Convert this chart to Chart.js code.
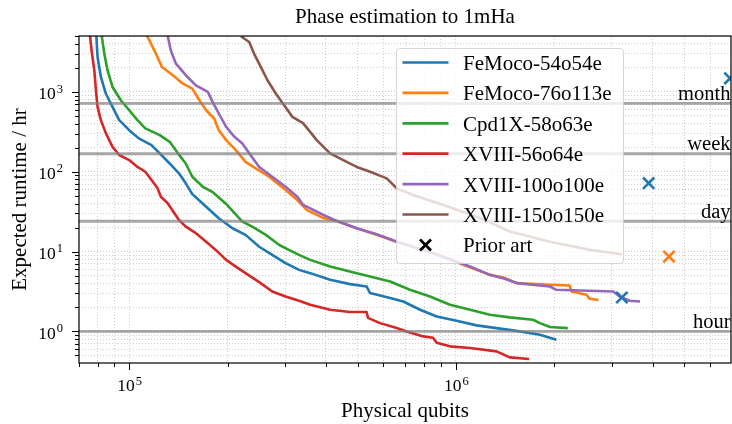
<!DOCTYPE html>
<html>
<head>
<meta charset="utf-8">
<script src="https://cdn.jsdelivr.net/npm/chart.js@4.4.1/dist/chart.umd.min.js"></script>
<style>
  html, body { margin: 0; padding: 0; background: #fff; }
  #wrap { width: 732px; height: 424px; position: relative; }
</style>
</head>
<body>
<div id="wrap"><canvas id="chart"></canvas></div>
<script>
// Series names and colours (matplotlib tab10)
const seriesNames = ["FeMoco-54o54e", "FeMoco-76o113e", "Cpd1X-58o63e", "XVIII-56o64e", "XVIII-100o100e", "XVIII-150o150e"];
const seriesColors = ["#1f77b4", "#ff7f0e", "#2ca02c", "#d62728", "#9467bd", "#8c564b"];

// Physical qubits / expected runtime (hr)
const femoco54Qubits = [79.3e3, 80.0e3, 81.9e3, 84.8e3, 88.9e3, 93.2e3, 100e3, 107e3, 117e3, 124e3, 133e3, 142e3, 149e3, 156e3, 172e3, 188e3, 207e3, 227e3, 250e3, 274e3, 301e3, 331e3, 358e3, 412e3, 474e3, 533e3, 546e3, 629e3, 690e3, 777e3, 873e3, 1.005e6, 1.157e6, 1.331e6, 1.569e6, 1.807e6, 2.03e6];
const femoco54Runtime = [5200, 2740, 1540, 955, 649, 443, 332, 262, 216, 170, 127, 95.5, 71.6, 52.5, 36.5, 26.2, 19.6, 16.2, 11.5, 9.1, 7.16, 5.9, 5.37, 4.43, 3.91, 3.65, 3.02, 2.62, 2.37, 1.87, 1.54, 1.36, 1.19, 1.10, 1.0, 0.91, 0.787];

const femoco76Qubits = [113e3, 118e3, 122e3, 126e3, 136e3, 146e3, 156e3, 164e3, 172e3, 182e3, 188e3, 198e3, 212e3, 227e3, 244e3, 268e3, 301e3, 327e3, 350e3, 393e3, 432e3, 497e3, 572e3, 659e3, 795e3, 915e3, 1.053e6, 1.157e6, 1.27e6, 1.41e6, 1.535e6, 1.94e6, 2.23e6, 2.26e6, 2.51e6, 2.57e6, 2.73e6];
const femoco76Runtime = [5200, 3650, 2740, 2050, 1620, 1270, 1100, 787, 590, 465, 332, 249, 187, 133, 110, 86.6, 59, 44.3, 33, 26.3, 24.2, 19.6, 16.2, 13.3, 10.5, 8.66, 6.82, 5.9, 5.11, 4.69, 4.03, 3.84, 3.76, 3.16, 2.88, 2.56, 2.47];

const cpd1xQubits = [82.3e3, 83.9e3, 85.8e3, 88.9e3, 94.3e3, 100e3, 106e3, 112e3, 124e3, 133e3, 141e3, 149e3, 156e3, 168e3, 180e3, 198e3, 222e3, 238e3, 262e3, 288e3, 308e3, 331e3, 358e3, 412e3, 497e3, 546e3, 629e3, 723e3, 833e3, 959e3, 1.105e6, 1.27e6, 1.462e6, 1.722e6, 1.807e6, 1.94e6, 2.20e6];
const cpd1xRuntime = [5200, 3020, 1870, 1155, 787, 590, 443, 349, 288, 237, 170, 127, 86.6, 64.9, 55.7, 39.5, 23.7, 20.5, 16.2, 12.1, 10.5, 9.1, 7.87, 6.49, 5.37, 4.87, 4.22, 3.32, 2.74, 2.16, 1.87, 1.62, 1.50, 1.40, 1.27, 1.135, 1.10];

const xviii56Qubits = [75.8e3, 76.7e3, 78.2e3, 79.1e3, 80.0e3, 81.9e3, 84.8e3, 88.9e3, 93.2e3, 100e3, 106e3, 112e3, 116e3, 122e3, 125e3, 131e3, 142e3, 149e3, 160e3, 172e3, 184e3, 198e3, 212e3, 227e3, 250e3, 274e3, 301e3, 331e3, 358e3, 412e3, 474e3, 533e3, 538e3, 586e3, 659e3, 707e3, 795e3, 851e3, 873e3, 959e3, 1.105e6, 1.331e6, 1.462e6, 1.675e6];
const xviii56Runtime = [5200, 3320, 1870, 1050, 649, 443, 305, 205, 162, 140, 115, 100, 83, 62.5, 48.7, 40.6, 24.9, 20.5, 17.0, 13.3, 10.5, 7.87, 6.49, 5.37, 4.14, 3.16, 2.74, 2.42, 2.16, 1.87, 1.75, 1.75, 1.48, 1.27, 1.10, 1.0, 0.866, 0.834, 0.722, 0.65, 0.62, 0.562, 0.473, 0.452];

const xviii100Qubits = [131e3, 134e3, 139e3, 149e3, 160e3, 174e3, 180e3, 188e3, 198e3, 210e3, 222e3, 233e3, 250e3, 274e3, 301e3, 327e3, 341e3, 393e3, 432e3, 497e3, 572e3, 659e3, 795e3, 937e3, 1.105e6, 1.27e6, 1.41e6, 1.535e6, 1.94e6, 2.03e6, 3.03e6, 3.17e6, 3.40e6, 3.66e6];
const xviii100Runtime = [5200, 3320, 2260, 1620, 1210, 1000, 750, 537, 365, 274, 226, 170, 115, 86.6, 64.9, 48.7, 38.4, 28.7, 24.2, 19.6, 16.5, 13.3, 10.5, 8.27, 6.49, 5.11, 4.56, 4.03, 3.65, 3.32, 3.16, 2.74, 2.42, 2.37];

const xviii150Qubits = [220e3, 233e3, 241e3, 253e3, 265e3, 281e3, 298e3, 316e3, 341e3, 375e3, 412e3, 452e3, 497e3, 546e3, 614e3, 659e3, 740e3, 915e3, 1.184e6, 1.462e6, 1.94e6, 2.57e6, 3.22e6];
const xviii150Runtime = [4950, 4220, 3020, 2050, 1400, 955, 682, 487, 403, 249, 170, 140, 115, 100, 82.7, 62, 51.1, 38.4, 26.4, 17.8, 13.3, 10.5, 9.28];

// Prior art points
const priorBlueQubits = [3.22e6, 3.89e6, 6.9e6];
const priorBlueRuntime = [2.66, 72, 1480];
const priorOrangeQubits = [4.49e6];
const priorOrangeRuntime = [8.66];

// Reference durations in hours
const refValues = [1, 24, 168, 720];
const refLabels = ["hour", "day", "week", "month"];

// Axis ranges and ticks
const xMin = 70200, xMax = 6.95e6;
const yMin = 0.402, yMax = 5020;
const xTickValues = [7e4, 8e4, 9e4, 1e5, 2e5, 3e5, 4e5, 5e5, 6e5, 7e5, 8e5, 9e5, 1e6, 2e6, 3e6, 4e6, 5e6, 6e6];
const yTickValues = [0.5, 0.6, 0.7, 0.8, 0.9, 1, 2, 3, 4, 5, 6, 7, 8, 9, 10, 20, 30, 40, 50, 60, 70, 80, 90,
                     100, 200, 300, 400, 500, 600, 700, 800, 900, 1000, 2000, 3000, 4000, 5000];
const xMajorTicks = [1e5, 1e6];
const xMajorExp = ["5", "6"];
const yMajorTicks = [1, 10, 100, 1000];
const yMajorExp = ["0", "1", "2", "3"];

const SERIF = '"Liberation Serif", "DejaVu Serif", serif';

function toPoints(xs, ys) {
    return xs.map((x, i) => ({ x: x, y: ys[i] }));
}

const curveData = [
    toPoints(femoco54Qubits, femoco54Runtime),
    toPoints(femoco76Qubits, femoco76Runtime),
    toPoints(cpd1xQubits, cpd1xRuntime),
    toPoints(xviii56Qubits, xviii56Runtime),
    toPoints(xviii100Qubits, xviii100Runtime),
    toPoints(xviii150Qubits, xviii150Runtime)
];

const datasets = curveData.map((pts, i) => ({
    label: seriesNames[i],
    data: pts,
    borderColor: seriesColors[i],
    backgroundColor: seriesColors[i],
    borderWidth: 2.6,
    borderJoinStyle: "round",
    pointRadius: 0,
    fill: false,
    clip: 0,
    order: 20 - i   // later series on top, like matplotlib
}));

datasets.push({
    type: "scatter", label: "Prior art (FeMoco-54o54e)",
    data: toPoints(priorBlueQubits, priorBlueRuntime),
    showLine: false, pointStyle: "crossRot", pointRadius: 8,
    borderColor: seriesColors[0], pointBorderWidth: 2.6, order: 1, clip: 0
});
datasets.push({
    type: "scatter", label: "Prior art (FeMoco-76o113e)",
    data: toPoints(priorOrangeQubits, priorOrangeRuntime),
    showLine: false, pointStyle: "crossRot", pointRadius: 8,
    borderColor: seriesColors[1], pointBorderWidth: 2.6, order: 0, clip: 0
});

function drawSupLabel(ctx, base, exp, x, y, align) {
    ctx.font = "17.5px " + SERIF;
    const wb = ctx.measureText(base).width;
    ctx.font = "12.5px " + SERIF;
    const we = ctx.measureText(exp).width;
    const total = wb + 1 + we;
    let left = align === "right" ? x - total : x - total / 2;
    ctx.textAlign = "left";
    ctx.textBaseline = "alphabetic";
    ctx.font = "17.5px " + SERIF;
    ctx.fillText(base, left, y);
    ctx.font = "12.5px " + SERIF;
    ctx.fillText(exp, left + wb + 1, y - 6.5);
}

const decorPlugin = {
    id: "decor",
    afterDatasetsDraw(chart) {
        const ctx = chart.ctx, area = chart.chartArea, ys = chart.scales.y;
        ctx.save();
        // reference lines: hour / day / week / month
        ctx.strokeStyle = "rgba(128,128,128,0.7)";
        ctx.lineWidth = 2.8;
        refValues.forEach(v => {
            const py = ys.getPixelForValue(v);
            ctx.beginPath();
            ctx.moveTo(area.left, py);
            ctx.lineTo(area.right, py);
            ctx.stroke();
        });
        ctx.fillStyle = "#000";
        ctx.font = "20.5px " + SERIF;
        ctx.textAlign = "right";
        ctx.textBaseline = "alphabetic";
        refValues.forEach((v, i) => {
            ctx.fillText(refLabels[i], area.right - 0.5, ys.getPixelForValue(v) - 3.5);
        });
        ctx.restore();
    },
    afterDraw(chart) {
        const ctx = chart.ctx, area = chart.chartArea;
        const xs = chart.scales.x, ys = chart.scales.y;
        ctx.save();

        // legend
        const lx = 396, ly = 48, lw = 227, lh = 215;
        ctx.beginPath();
        ctx.roundRect(lx + 0.5, ly + 0.5, lw, lh, 3);
        ctx.fillStyle = "rgba(255,255,255,0.8)";
        ctx.fill();
        ctx.strokeStyle = "rgba(204,204,204,0.8)";
        ctx.lineWidth = 1;
        ctx.stroke();
        ctx.font = "21px " + SERIF;
        ctx.textAlign = "left";
        ctx.textBaseline = "alphabetic";
        const rowH = 30.4;
        seriesNames.forEach((name, i) => {
            const cy = 62.5 + i * rowH;
            ctx.strokeStyle = seriesColors[i];
            ctx.lineWidth = 2.7;
            ctx.beginPath();
            ctx.moveTo(402.5, cy);
            ctx.lineTo(448.5, cy);
            ctx.stroke();
            ctx.fillStyle = "#000";
            ctx.fillText(name, 463, cy + 7.5);
        });
        const pcy = 62.5 + 6 * rowH;
        ctx.strokeStyle = "#000";
        ctx.lineWidth = 2.8;
        ctx.beginPath();
        ctx.moveTo(420, pcy - 5.5); ctx.lineTo(431, pcy + 5.5);
        ctx.moveTo(431, pcy - 5.5); ctx.lineTo(420, pcy + 5.5);
        ctx.stroke();
        ctx.fillStyle = "#000";
        ctx.fillText("Prior art", 463, pcy + 7.5);

        // frame
        ctx.strokeStyle = "#000";
        ctx.lineWidth = 1.2;
        ctx.strokeRect(area.left, area.top, area.right - area.left, area.bottom - area.top);

        // tick marks
        ctx.lineWidth = 1;
        xTickValues.forEach(v => {
            const px = Math.round(xs.getPixelForValue(v)) + 0.5;
            const len = xMajorTicks.includes(v) ? 7 : 4;
            ctx.beginPath();
            ctx.moveTo(px, area.bottom);
            ctx.lineTo(px, area.bottom + len);
            ctx.stroke();
        });
        yTickValues.forEach(v => {
            const py = Math.round(ys.getPixelForValue(v)) + 0.5;
            const len = yMajorTicks.includes(v) ? 7 : 4;
            ctx.beginPath();
            ctx.moveTo(area.left, py);
            ctx.lineTo(area.left - len, py);
            ctx.stroke();
        });

        // tick labels
        ctx.fillStyle = "#000";
        xMajorTicks.forEach((v, i) => {
            drawSupLabel(ctx, "10", xMajorExp[i], xs.getPixelForValue(v) + 0.5, area.bottom + 28, "center");
        });
        yMajorTicks.forEach((v, i) => {
            drawSupLabel(ctx, "10", yMajorExp[i], area.left - 16, ys.getPixelForValue(v) + 7.2, "right");
        });

        // title and axis labels
        const cx = (area.left + area.right) / 2;
        ctx.font = "21px " + SERIF;
        ctx.textAlign = "center";
        ctx.textBaseline = "alphabetic";
        ctx.fillText("Phase estimation to 1mHa", cx, 23.3);
        ctx.fillText("Physical qubits", cx, 416.5);
        ctx.translate(25.5, (area.top + area.bottom) / 2);
        ctx.rotate(-Math.PI / 2);
        ctx.fillText("Expected runtime / hr", 0, 0);
        ctx.restore();
    }
};

function gridOpts() {
    return { color: "#cdcdcd", lineWidth: 1, drawTicks: false };
}

new Chart(document.getElementById("chart"), {
    type: "line",
    data: { datasets: datasets },
    options: {
        responsive: true,
        maintainAspectRatio: false,
        animation: false,
        devicePixelRatio: 1,
        layout: { autoPadding: false, padding: { left: 79, top: 36, right: 1, bottom: 61 } },
        plugins: {
            legend: { display: false },
            tooltip: { enabled: false },
            title: { display: false }
        },
        scales: {
            x: {
                type: "logarithmic", min: xMin, max: xMax,
                ticks: { display: false },
                grid: gridOpts(),
                border: { display: false, dash: [1, 2] },
                afterBuildTicks: s => { s.ticks = xTickValues.map(v => ({ value: v })); }
            },
            y: {
                type: "logarithmic", min: yMin, max: yMax,
                ticks: { display: false },
                grid: gridOpts(),
                border: { display: false, dash: [1, 2] },
                afterBuildTicks: s => { s.ticks = yTickValues.map(v => ({ value: v })); }
            }
        }
    },
    plugins: [decorPlugin]
});
</script>
</body>
</html>
